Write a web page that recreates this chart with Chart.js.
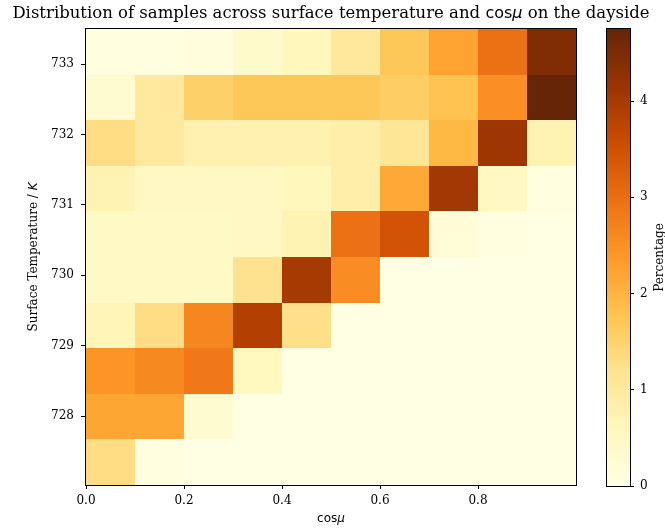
<!DOCTYPE html>
<html lang="en">
<head>
    <meta charset="UTF-8">
    <title>Surface temperature vs cos mu</title>
    <script src="https://cdn.jsdelivr.net/npm/chart.js"></script>
    <style>
        * {
            margin: 0;
            padding: 0;
            box-sizing: border-box;
        }

        body {
            background: white;
            width: 665px;
            height: 529px;
            overflow: hidden;
        }

        .wrap {
            position: relative;
            width: 665px;
            height: 529px;
        }

        #heatmap {
            position: absolute;
            left: 0;
            top: 0;
        }

        #colorbar {
            position: absolute;
            left: 590px;
            top: 0;
        }
    </style>
</head>
<body>
    <div class="wrap">
        <canvas id="heatmap" width="665" height="529"></canvas>
        <canvas id="colorbar" width="75" height="529"></canvas>
    </div>

    <script>
        // bin edges
        const cosMuEdges = [0.0, 0.1, 0.2, 0.3, 0.4, 0.5, 0.6, 0.7, 0.8, 0.9, 1.0];
        const tempEdges = [727.02, 727.668, 728.316, 728.964, 729.612, 730.26, 730.908, 731.556, 732.204, 732.852, 733.5];

        // tick labels
        const xTicks = [0.0, 0.2, 0.4, 0.6, 0.8];
        const yTicks = [728, 729, 730, 731, 732, 733];
        const cbTicks = [0, 1, 2, 3, 4];
        const cbMax = 4.75;

        // percentage of samples per cell, one array per temperature bin (bottom to top)
        const row0 = [1.3, 0.1, 0.03, 0.03, 0.03, 0.03, 0.03, 0.03, 0.03, 0.03];
        const row1 = [2.2, 2.2, 0.3, 0.03, 0.03, 0.03, 0.03, 0.03, 0.03, 0.03];
        const row2 = [2.45, 2.6, 2.85, 0.55, 0.03, 0.03, 0.03, 0.03, 0.03, 0.03];
        const row3 = [0.65, 1.3, 2.65, 3.85, 1.25, 0.03, 0.03, 0.03, 0.03, 0.03];
        const row4 = [0.45, 0.45, 0.45, 1.2, 4.0, 2.55, 0.03, 0.03, 0.03, 0.03];
        const row5 = [0.45, 0.45, 0.45, 0.5, 0.7, 2.97, 3.45, 0.2, 0.08, 0.03];
        const row6 = [0.7, 0.5, 0.5, 0.5, 0.6, 0.85, 2.15, 4.05, 0.5, 0.08];
        const row7 = [1.3, 1.0, 0.75, 0.75, 0.75, 0.85, 1.1, 1.95, 4.1, 0.7];
        const row8 = [0.3, 1.0, 1.55, 1.7, 1.7, 1.7, 1.6, 1.78, 2.5, 4.75];
        const row9 = [0.1, 0.1, 0.15, 0.4, 0.6, 1.05, 1.7, 2.25, 2.97, 4.45];
        const percentage = [row0, row1, row2, row3, row4, row5, row6, row7, row8, row9];

        // matplotlib YlOrBr
        const ylOrBr = [
            [255, 255, 229], [255, 247, 188], [254, 227, 145], [254, 196, 79], [254, 153, 41],
            [236, 112, 20], [204, 76, 2], [153, 52, 4], [102, 37, 6]
        ];

        function cmap(v) {
            let t = Math.min(Math.max(v / cbMax, 0), 1) * (ylOrBr.length - 1);
            const i = Math.min(Math.floor(t), ylOrBr.length - 2);
            const f = t - i;
            const a = ylOrBr[i], b = ylOrBr[i + 1];
            const c = a.map((ch, k) => Math.round(ch + (b[k] - ch) * f));
            return `rgb(${c[0]},${c[1]},${c[2]})`;
        }

        const serif = 'DejaVu Serif';

        // text made of pieces in different fonts, centred on (x, y)
        function drawPieces(ctx, pieces, x, y, rot) {
            ctx.save();
            ctx.translate(x, y);
            ctx.rotate(rot || 0);
            ctx.fillStyle = '#000';
            ctx.textBaseline = 'middle';
            ctx.textAlign = 'left';
            let total = 0;
            pieces.forEach(p => { ctx.font = p[1]; total += ctx.measureText(p[0]).width; });
            let cx = -total / 2;
            pieces.forEach(p => {
                ctx.font = p[1];
                ctx.fillText(p[0], cx, 0);
                cx += ctx.measureText(p[0]).width;
            });
            ctx.restore();
        }

        const cellPlugin = {
            id: 'cells',
            beforeDatasetsDraw(chart) {
                const { ctx } = chart;
                const xs = chart.scales.x, ys = chart.scales.y;
                ctx.save();
                for (let r = 0; r < percentage.length; r++) {
                    const yTop = Math.round(ys.getPixelForValue(tempEdges[r + 1]));
                    const yBot = Math.round(ys.getPixelForValue(tempEdges[r]));
                    for (let c = 0; c < percentage[r].length; c++) {
                        const xL = Math.round(xs.getPixelForValue(cosMuEdges[c]));
                        const xR = Math.round(xs.getPixelForValue(cosMuEdges[c + 1]));
                        ctx.fillStyle = cmap(percentage[r][c]);
                        ctx.fillRect(xL, yTop, xR - xL, yBot - yTop);
                    }
                }
                ctx.restore();
            },
            afterDatasetsDraw(chart) {
                const { ctx, chartArea: a } = chart;
                ctx.save();
                ctx.strokeStyle = '#000';
                ctx.lineWidth = 1;
                ctx.strokeRect(Math.round(a.left) - 0.5, Math.round(a.top) - 0.5,
                    Math.round(a.right - a.left) + 1, Math.round(a.bottom - a.top) + 1);
                ctx.restore();
            },
            afterDraw(chart) {
                const { ctx, chartArea: a } = chart;
                const mid = (a.left + a.right) / 2;
                const f = `16.5px "${serif}"`;
                drawPieces(ctx, [
                    ['Distribution of samples across surface temperature and ', f],
                    ['cos', '16px "DejaVu Sans"'],
                    ['\u03bc', 'italic 16px "DejaVu Sans"'],
                    [' on the dayside', f]
                ], mid, 14);
                drawPieces(ctx, [
                    ['cos', '12px "DejaVu Sans"'],
                    ['\u03bc', 'italic 12px "DejaVu Sans"']
                ], mid, 519);
                drawPieces(ctx, [
                    ['Surface Temperature / ', `12px "${serif}"`],
                    ['K', 'italic 12px "DejaVu Sans"']
                ], 34, (a.top + a.bottom) / 2, -Math.PI / 2);
            }
        };

        new Chart(document.getElementById('heatmap'), {
            type: 'scatter',
            data: { datasets: [{ data: [] }] },
            options: {
                responsive: false,
                animation: false,
                layout: { padding: { left: 0, right: 89, top: 29, bottom: 0 } },
                plugins: {
                    legend: { display: false },
                    tooltip: { enabled: false }
                },
                scales: {
                    x: {
                        type: 'linear',
                        min: cosMuEdges[0],
                        max: cosMuEdges[cosMuEdges.length - 1],
                        afterBuildTicks: (s) => { s.ticks = xTicks.map(v => ({ value: v })); },
                        afterFit: (s) => { s.height = 44; },
                        grid: { drawOnChartArea: false, drawTicks: true, tickLength: 4, color: '#000' },
                        border: { display: true, color: '#000' },
                        ticks: {
                            color: '#000',
                            padding: 5,
                            maxRotation: 0,
                            font: { family: serif, size: 12 },
                            callback: (v) => Number(v).toFixed(1)
                        }
                    },
                    y: {
                        type: 'linear',
                        min: tempEdges[0],
                        max: tempEdges[tempEdges.length - 1],
                        afterBuildTicks: (s) => { s.ticks = yTicks.map(v => ({ value: v })); },
                        afterFit: (s) => { s.width = 86; },
                        grid: { drawOnChartArea: false, drawTicks: true, tickLength: 5, color: '#000' },
                        border: { display: true, color: '#000' },
                        ticks: {
                            color: '#000',
                            padding: 7,
                            font: { family: serif, size: 12 },
                            callback: (v) => String(v)
                        }
                    }
                }
            },
            plugins: [cellPlugin]
        });

        // colorbar
        const cbPlugin = {
            id: 'cbar',
            beforeDatasetsDraw(chart) {
                const { ctx, chartArea: a } = chart;
                const s = chart.scales.y;
                const y0 = s.getPixelForValue(0), y1 = s.getPixelForValue(cbMax);
                const g = ctx.createLinearGradient(0, y0, 0, y1);
                ylOrBr.forEach((c, i) => g.addColorStop(i / (ylOrBr.length - 1), `rgb(${c[0]},${c[1]},${c[2]})`));
                ctx.save();
                ctx.fillStyle = g;
                ctx.fillRect(a.left, y1, a.right - a.left, y0 - y1);
                ctx.strokeStyle = '#000';
                ctx.lineWidth = 1;
                ctx.strokeRect(Math.round(a.left) - 0.5, Math.round(y1) - 0.5,
                    Math.round(a.right - a.left) + 1, Math.round(y0 - y1) + 1);
                ctx.restore();
            },
            afterDraw(chart) {
                const { ctx, chartArea: a } = chart;
                drawPieces(ctx, [['Percentage', `12px "${serif}"`]], 70, (a.top + a.bottom) / 2, -Math.PI / 2);
            }
        };

        new Chart(document.getElementById('colorbar'), {
            type: 'scatter',
            data: { datasets: [{ data: [] }] },
            options: {
                responsive: false,
                animation: false,
                layout: { padding: { left: 17, right: 0, top: 29, bottom: 43 } },
                plugins: { legend: { display: false }, tooltip: { enabled: false } },
                scales: {
                    x: { type: 'linear', display: false },
                    y: {
                        type: 'linear',
                        position: 'right',
                        min: 0,
                        max: cbMax,
                        afterBuildTicks: (s) => { s.ticks = cbTicks.map(v => ({ value: v })); },
                        afterFit: (s) => { s.width = 35; },
                        grid: { drawOnChartArea: false, drawTicks: true, tickLength: 4, color: '#000' },
                        border: { display: false },
                        ticks: {
                            color: '#000',
                            padding: 6,
                            font: { family: serif, size: 12 },
                            callback: (v) => String(v)
                        }
                    }
                }
            },
            plugins: [cbPlugin]
        });
    </script>
</body>
</html>
